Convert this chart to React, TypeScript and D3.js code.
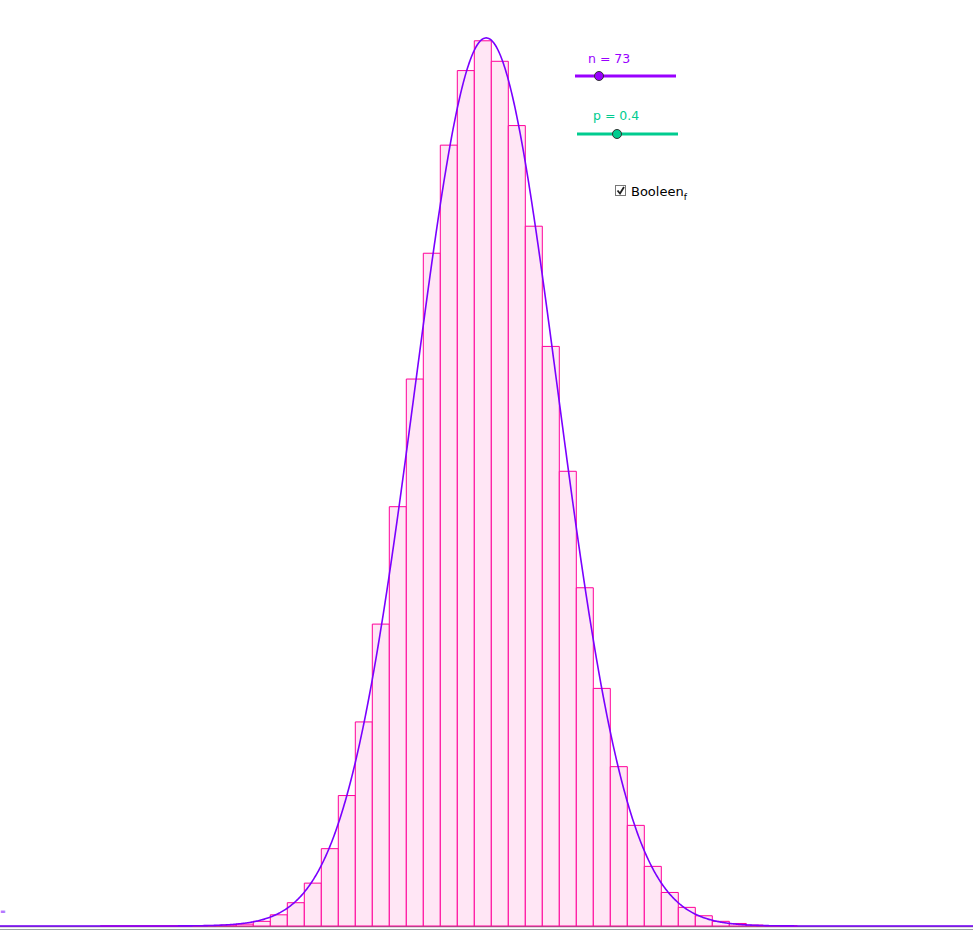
import React from "react";
import * as d3 from "d3";

// parameters shown on the sliders
const sliderN = 73;
const sliderP = 0.4;

// outcome k and probability
const outcomes = d3.range(0, 58);
const probs = [
	0, 0, 0, 0, 0, 0, 0, 0.000001, 0.000002, 0.000004,
	0.000008, 0.00002, 0.00004, 0.00006, 0.0001, 0.0002, 0.0005, 0.0012, 0.0025, 0.0046,
	0.0083, 0.014, 0.0219, 0.0324, 0.045, 0.0587, 0.0722, 0.0838, 0.0918, 0.095,
	0.0928, 0.0859, 0.0751, 0.0622, 0.0488, 0.0363, 0.0255, 0.0171, 0.0108, 0.0064,
	0.0036, 0.002, 0.0011, 0.0005, 0.00027, 0.0001, 0.00004, 0.00001, 0, 0,
	0, 0, 0, 0, 0, 0, 0, 0,
];

const W = 973;
const H = 938;
const baseY = 926;

const App: React.FC = () => {
	const x = d3
		.scaleLinear()
		.domain([0, 57])
		.range([482.8 - 29 * 17, 482.8 + 28 * 17]);
	const y = d3.scaleLinear().domain([0, 0.1]).range([baseY, baseY - 931.8]);

	const mu = sliderN * sliderP;
	const sigma = Math.sqrt(sliderN * sliderP * (1 - sliderP));
	const density = (t: number) =>
		Math.exp(-((t - mu) ** 2) / (2 * sigma * sigma)) / (sigma * Math.sqrt(2 * Math.PI));
	const ts = d3.range(-1.5, 59, 0.05);
	const curve = d3
		.line<number>()
		.x((t) => x(t))
		.y((t) => y(density(t)))
		.curve(d3.curveLinear)(ts);

	const font = "'DejaVu Sans', sans-serif";

	return (
		<div style={{position: "absolute", left: 0, top: 0, width: W, height: H}}>
			<svg width={W} height={H} style={{display: "block", background: "#fff"}}>
				<line x1={0} x2={W} y1={baseY + 0.5} y2={baseY + 0.5} stroke="#7a7a7a" strokeWidth={1.5} />
				<line x1={0} x2={W} y1={929.5} y2={929.5} stroke="#9aa0a4" strokeWidth={1.2} />
				<g>
					{outcomes.map((k, i) => {
						if (probs[i] <= 0) return null;
						const x0 = x(k - 0.5);
						const x1 = x(k + 0.5);
						const y1 = y(probs[i]);
						return (
							<path
								key={k}
								d={`M${x0},${baseY} V${y1} H${x1} V${baseY} Z`}
								fill="#ffe6f5"
								stroke="#ff0099"
								strokeWidth={1}
							/>
						);
					})}
				</g>
				<path d={curve || ""} fill="none" stroke="#7a00ff" strokeWidth={1.6} />
				<text x={0} y={914} fontFamily={font} fontSize={7} fill="#7a00ff">=</text>

				{/* n slider */}
				<text x={588} y={63} fontFamily={font} fontSize={12.5} fill="#9900ff">
					n = {sliderN}
				</text>
				<line x1={575} x2={676} y1={76} y2={76} stroke="#9900ff" strokeWidth={3} />
				<circle cx={599} cy={76} r={4.5} fill="#9900ff" stroke="#333" strokeWidth={1} />

				{/* p slider */}
				<text x={593} y={120} fontFamily={font} fontSize={12.5} fill="#00cc8f">
					p = {sliderP}
				</text>
				<line x1={577} x2={678} y1={134} y2={134} stroke="#00cc8f" strokeWidth={3} />
				<circle cx={617} cy={134} r={4.5} fill="#00cc8f" stroke="#333" strokeWidth={1} />

				{/* checkbox */}
				<rect x={615.5} y={185.5} width={10} height={10} fill="#fff" stroke="#777" strokeWidth={1} />
				<path d="M617.5,190.5 L620,193.5 L624,187" fill="none" stroke="#222" strokeWidth={1.8} />
				<text x={631} y={196} fontFamily={font} fontSize={13} fill="#000">
					Booleen
					<tspan fontSize={9} dy={4}>f</tspan>
				</text>
			</svg>
		</div>
	);
};

export default App;
